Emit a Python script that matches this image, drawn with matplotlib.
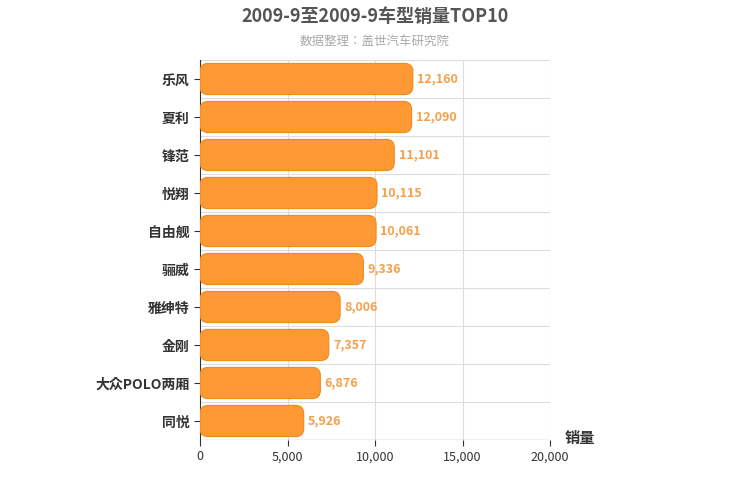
import matplotlib
matplotlib.use("Agg")
import matplotlib.pyplot as plt
from matplotlib.patches import FancyBboxPatch
from matplotlib import font_manager as fm

cjk = [f.name for f in fm.fontManager.ttflist if "CJK" in f.name]
pref = [n for n in ["Noto Sans CJK SC", "Noto Sans CJK JP", "Noto Sans CJK TC", "Noto Sans CJK KR"] if n in cjk]
fam = pref[0] if pref else (cjk[0] if cjk else "DejaVu Sans")
plt.rcParams["font.family"] = [fam, "DejaVu Sans"]

categories = ["乐风", "夏利", "锋范", "悦翔", "自由舰", "骊威", "雅绅特", "金刚", "大众POLO两厢", "同悦"]
values = [12160, 12090, 11101, 10115, 10061, 9336, 8006, 7357, 6876, 5926]
xticks = [0, 5000, 10000, 15000, 20000]

fig = plt.figure(figsize=(7.5, 5), dpi=100)
ax = fig.add_axes([200/750, 60/500, 350/750, 380/500])
n = len(categories)
ax.set_xlim(0, 20000)
ax.set_ylim(n - 0.5, -0.5)

xpp = 20000 / 350
ypp = n / 380
r = 8 * xpp
h = 0.82
for i, v in enumerate(values):
    p = FancyBboxPatch((0, i - h/2), v, h,
                       boxstyle=f"round,pad=0,rounding_size={r}",
                       mutation_aspect=ypp/xpp,
                       fc="#ff9933", ec="#f08a1c", lw=0.8, zorder=3)
    ax.add_patch(p)
    ax.text(v + 250, i, f"{v:,}", va="center", ha="left", color="#f5a04a",
            fontsize=9, fontweight="bold", zorder=4)

ax.set_yticks(range(n))
ax.set_yticklabels(categories, fontsize=10, fontweight="bold", color="#333333")
ax.set_xticks(xticks)
ax.set_xticklabels([f"{t:,}" for t in xticks], fontsize=9, color="#333333")
for t in xticks:
    ax.axvline(t, color="#dddddd", lw=0.8, zorder=1)
for k in range(n + 1):
    ax.axhline(k - 0.5, color="#dddddd", lw=0.8, zorder=1)
for s in ["top", "right", "bottom"]:
    ax.spines[s].set_visible(False)
ax.spines["left"].set_color("#333333")
ax.tick_params(axis="y", length=4, color="#333333")
ax.tick_params(axis="x", length=4, color="#333333")
ax.axhline(n - 0.5, color="#333333", lw=0.8, zorder=2)

fig.text(0.5, 1 - 17/500, "2009-9至2009-9车型销量TOP10", ha="center", va="center",
         fontsize=13, fontweight="bold", color="#555555")
fig.text(0.5, 1 - 41/500, "数据整理：盖世汽车研究院", ha="center", va="center",
         fontsize=9, color="#aaaaaa")
fig.text(565/750, 1 - 438/500, "销量", ha="left", va="center", fontsize=11,
         fontweight="bold", color="#333333")
fig.savefig("out.png", dpi=100)
